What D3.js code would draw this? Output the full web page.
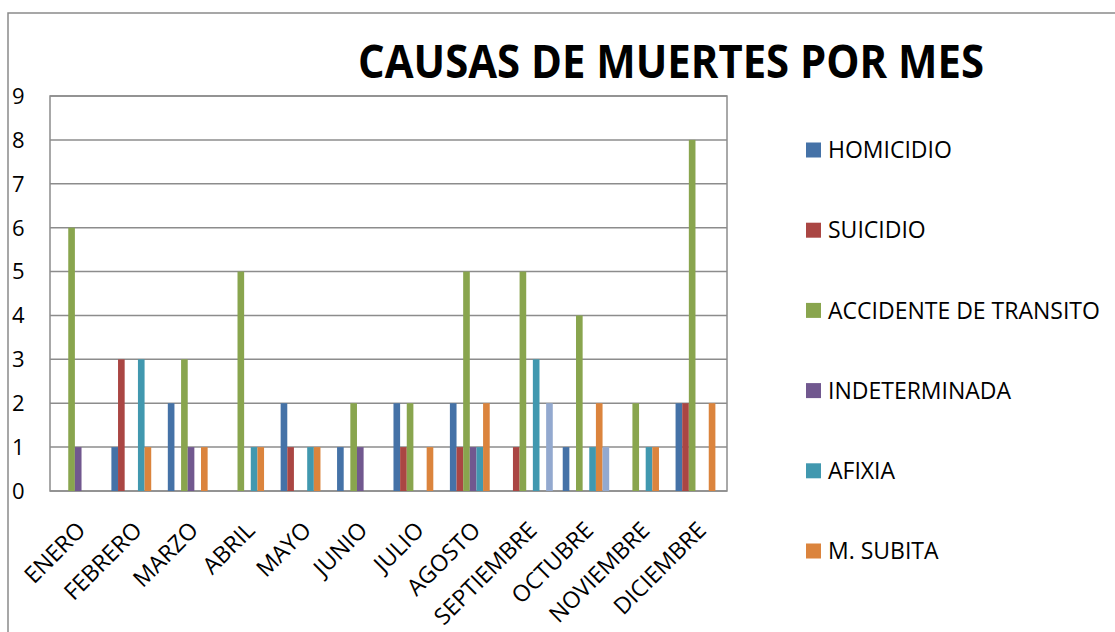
<!DOCTYPE html>
<html><head><meta charset="utf-8">
<script src="https://cdn.jsdelivr.net/npm/d3@7"></script>
<style>body{margin:0;background:#fff}svg{display:block}</style>
</head><body>
<svg id="c" width="1115" height="632"></svg>
<script>
const months = ["ENERO","FEBRERO","MARZO","ABRIL","MAYO","JUNIO","JULIO","AGOSTO","SEPTIEMBRE","OCTUBRE","NOVIEMBRE","DICIEMBRE"];
const seriesNames = ["HOMICIDIO","SUICIDIO","ACCIDENTE DE TRANSITO","INDETERMINADA","AFIXIA","M. SUBITA",""];
const homicidio     = [0,1,2,0,2,1,2,2,0,1,0,2];
const suicidio      = [0,3,0,0,1,0,1,1,1,0,0,2];
const accidente     = [6,0,3,5,0,2,2,5,5,4,2,8];
const indeterminada = [1,0,1,0,0,1,0,1,0,0,0,0];
const afixia        = [0,3,0,1,1,0,0,1,3,1,1,0];
const mSubita       = [0,1,1,1,1,0,1,2,0,2,1,2];
const otra          = [0,0,0,0,0,0,0,0,2,1,0,0];
const yTicks = [0,1,2,3,4,5,6,7,8,9];
const colors = ["#4572A7","#AA4643","#89A54E","#71588F","#4198AF","#DB843D","#93A9CF"];
const allSeries = [homicidio,suicidio,accidente,indeterminada,afixia,mSubita,otra];

const svg = d3.select("#c");
const font = "'Open Sans', sans-serif";
const L=50, R=727, T=96, B=491;

svg.append("path").attr("d","M8,640 L8,13 L1120,13").attr("fill","none").attr("stroke","#8a8a8a").attr("stroke-width",1.5);

svg.append("text").attr("x",671).attr("y",78).attr("text-anchor","middle")
  .attr("font-family",font).attr("font-weight","bold").attr("font-size",46)
  .attr("textLength",626).attr("lengthAdjust","spacingAndGlyphs")
  .text("CAUSAS DE MUERTES POR MES");

const x = d3.scaleBand().domain(months).range([L,R]).paddingInner(0).paddingOuter(0);
const inner = x.bandwidth()*7/8.5;
const x1 = d3.scaleBand().domain(d3.range(7)).range([0,inner]);
const y = d3.scaleLinear().domain([0,9]).range([B,T]);

svg.append("g").selectAll("line").data(yTicks).join("line")
  .attr("x1",L).attr("x2",R).attr("y1",d=>y(d)).attr("y2",d=>y(d))
  .attr("stroke","#8c8c8c").attr("stroke-width",1.5);
svg.append("rect").attr("x",L).attr("y",T).attr("width",R-L).attr("height",B-T)
  .attr("fill","none").attr("stroke","#8c8c8c").attr("stroke-width",1.5);

svg.append("g").selectAll("text").data(yTicks).join("text")
  .attr("x",12).attr("y",d=>y(d)).attr("dy","0.36em")
  .attr("font-family",font).attr("font-size",22).attr("fill","#000").text(d=>d);

const off = (x.bandwidth()-inner)/2;
allSeries.forEach((vals,si)=>{
  svg.append("g").selectAll("rect").data(vals.map((v,i)=>({m:months[i],v}))).join("rect")
    .attr("x",d=>x(d.m)+off+x1(si)).attr("width",x1.bandwidth())
    .attr("y",d=>y(d.v)).attr("height",d=>B-y(d.v))
    .attr("fill",colors[si]);
});

svg.append("g").selectAll("text").data(months).join("text")
  .attr("transform",d=>`translate(${x(d)+x.bandwidth()/2-3},${B+29}) rotate(-45)`)
  .attr("text-anchor","end").attr("dy","0.72em")
  .attr("font-family",font).attr("font-size",23).attr("fill","#000").text(d=>d);

const leg = svg.append("g");
seriesNames.slice(0,6).forEach((n,i)=>{
  const cy = 150 + i*80.2;
  leg.append("rect").attr("x",806).attr("y",cy-7.5).attr("width",15).attr("height",15).attr("fill",colors[i]);
  leg.append("text").attr("x",828).attr("y",cy).attr("dy","0.36em")
    .attr("font-family",font).attr("font-size",23).attr("fill","#000").text(n);
});
</script>
</body></html>
